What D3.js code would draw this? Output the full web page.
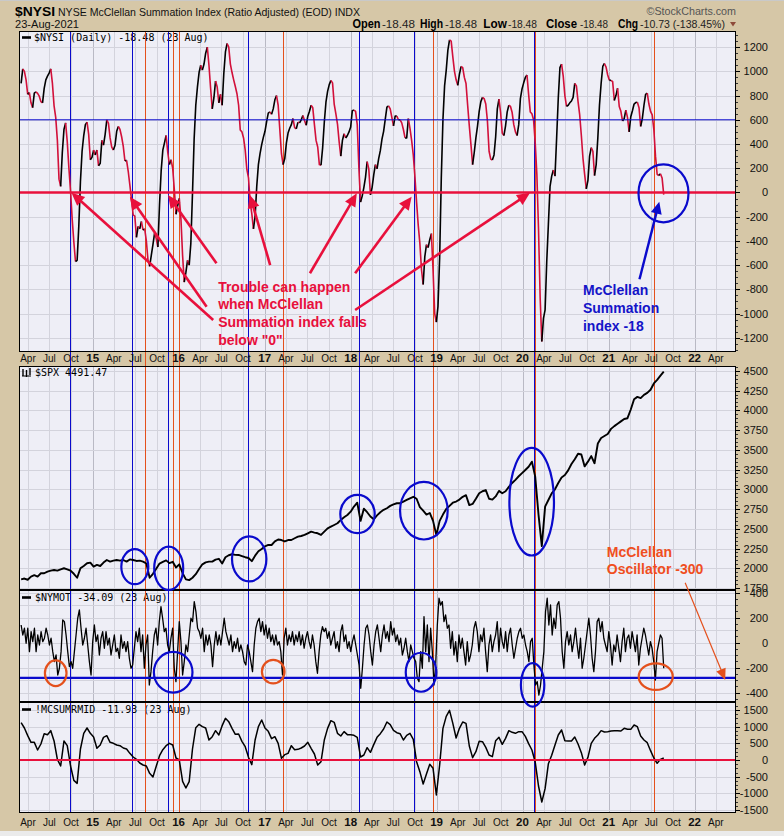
<!DOCTYPE html>
<html>
<head>
<meta charset="utf-8">
<script src="https://cdn.jsdelivr.net/npm/d3@7/dist/d3.min.js"></script>
<style>
html,body{margin:0;padding:0;background:#d6c7a7;}
svg{display:block;}
</style>
</head>
<body>
<svg id="chart" width="784" height="836"></svg>
<script>
// ================= DATA =================
const seriesStart = "2014-03-03";
const seriesEnd = "2021-08-23";

// $NYSI weekly readings
const nysiValues = [
900,1020,1000,930,810,825,740,700,820,830,
818,795,750,740,860,930,960,985,1020,900,
715,620,430,110,50,330,520,575,420,200,
10,-220,-410,-570,-560,-280,90,340,470,560,
580,480,270,290,350,310,350,220,240,430,
390,480,600,570,450,375,350,390,505,545,
520,460,380,260,265,175,60,-60,-185,-195,
-370,-280,-300,-240,-310,-300,-400,-560,-610,-520,
-430,-335,-380,-450,-100,180,350,410,470,330,
230,270,200,20,-180,-110,-50,-220,-520,-740,
-660,-560,-600,-420,-10,440,720,870,990,1050,
1010,1060,1150,1200,1050,860,690,780,920,870,
740,810,720,980,1160,1230,1200,1060,990,930,
875,815,720,515,500,450,350,190,120,-80,
-175,-300,-200,50,230,320,395,455,505,585,
655,665,645,690,765,800,720,520,320,230,
280,410,490,530,560,610,535,525,580,575,
600,635,595,555,630,670,720,700,560,430,
375,230,225,370,580,745,835,890,925,905,
730,650,565,420,300,430,485,450,470,500,
540,675,680,670,560,200,-80,-30,40,125,
255,195,-20,40,145,230,195,280,345,440,
505,605,705,715,690,620,550,630,630,600,
600,575,520,450,450,610,530,430,310,130,
-80,-270,-420,-640,-760,-530,-430,-455,-390,-340,
-640,-1000,-1070,-940,-540,120,600,880,1010,1175,
1260,1250,1120,1000,930,885,975,1040,1030,950,
900,720,550,395,230,330,450,550,670,750,
785,775,730,590,340,275,268,310,460,690,
770,660,490,470,550,665,720,710,660,560,
500,470,560,775,855,905,950,970,810,665,
650,600,410,150,-300,-870,-1230,-1040,-970,-570,
-260,50,135,185,135,450,780,1030,1060,960,
800,710,720,740,755,785,900,880,750,640,
470,280,150,30,100,300,370,340,140,230,
450,720,900,1040,1065,1035,970,926,926,915,
760,800,860,710,670,590,610,680,620,500,
625,675,730,742,745,700,545,610,720,810,
820,730,670,640,520,300,150,140,155,120,
-18
];

// $SPX two-weekly readings
const spxValues = [
1860,1870,1855,1895,1912,1895,1937,1937,1958,1970,
1978,1970,1987,2000,1987,1970,1930,1880,2000,2030,
2063,2072,2021,2042,2029,2072,2105,2084,2097,2105,
2097,2105,2084,2112,2105,2093,2097,2084,2060,1880,
1930,1995,2060,2080,2100,2065,2082,2010,2050,1937,
1860,1850,1880,1925,1990,2050,2075,2084,2084,2110,
2120,2060,2140,2165,2178,2170,2169,2155,2140,2130,
2090,2160,2215,2245,2278,2295,2295,2340,2365,2358,
2340,2358,2358,2380,2400,2409,2422,2443,2464,2452,
2443,2422,2464,2506,2527,2548,2570,2612,2646,2675,
2717,2781,2830,2600,2755,2710,2655,2620,2670,2710,
2740,2760,2790,2810,2823,2823,2844,2865,2886,2905,
2880,2775,2730,2680,2700,2600,2420,2600,2680,2750,
2790,2830,2845,2870,2905,2925,2800,2815,2880,2950,
2975,2990,2880,2870,2910,2980,2950,2975,3030,3080,
3120,3165,3205,3245,3285,3350,3160,2680,2280,2780,
2865,2949,3000,3080,3150,3180,3240,3320,3380,3450,
3440,3290,3350,3420,3330,3580,3650,3675,3700,3765,
3800,3830,3860,3890,3900,4010,4140,4170,4155,4195,
4220,4260,4340,4385,4440,4490
];

// $NYMOT weekly readings
const nymoValues = [
141,61,115,-5,115,-72,88,8,115,-72,
61,-19,88,8,35,115,61,-19,35,-72,
-152,-99,-259,-205,-72,181,168,61,-72,-192,
-152,-205,-72,61,195,261,115,-19,35,115,
-19,-152,-259,8,141,8,61,-99,35,88,
-45,88,-19,35,-99,-19,61,-72,-45,-125,
61,-45,8,-72,8,-125,-205,-179,-45,88,
8,115,-72,61,-205,-19,61,-339,-232,-72,
61,115,-19,168,288,195,88,115,-19,-72,
35,115,-205,-312,-72,168,8,-259,-152,-19,
-72,61,195,168,328,248,115,88,35,115,
-72,61,-19,61,-19,-192,-19,88,-19,61,
-19,88,195,88,35,-19,61,-72,8,-45,
35,-72,-19,-72,-152,-179,-19,-72,-152,-232,
-19,115,168,195,88,168,61,141,35,115,
8,61,-19,61,-19,8,-72,-259,35,115,
-19,61,8,88,-19,61,8,88,-19,61,
-45,35,88,8,-45,61,-19,-152,-245,-72,
61,128,88,115,35,88,-19,35,88,-45,
8,-72,88,141,8,61,-45,8,-72,8,
61,-19,-99,-179,-365,-205,-19,115,141,61,
-72,-179,-19,88,141,35,-72,61,141,35,
88,8,168,61,115,8,61,-19,35,
-99,-45,35,-72,-152,-19,-72,-125,-152,-285,
-312,-72,-205,208,-72,141,-152,115,-72,-339,
-179,141,355,301,328,168,221,115,141,-45,
88,-99,8,-152,61,-45,35,-72,-179,8,
-152,-99,-19,115,168,88,-72,61,8,115,
-72,-232,-19,61,-72,8,61,168,-72,115,
8,-45,88,-72,61,115,-19,-125,-45,35,
88,115,35,61,-19,-72,-152,8,35,-179,
-339,-312,-420,-339,-205,-72,248,355,141,301,
61,195,115,301,328,195,-72,-205,8,88,
-19,61,-72,8,115,-19,-125,35,-205,-125,
-19,88,195,61,-125,-232,-72,168,195,88,
168,35,-19,-72,88,-19,-179,-19,-72,61,
-45,-152,8,115,-72,35,61,-45,88,8,
-72,61,-179,-45,35,115,61,-19,-99,8,
-45,-152,-299,-72,-5,61,35,-205
];

// !MCSUMRMID two-weekly readings
const mcsumValues = [
1120,960,730,530,530,300,480,790,760,880,
570,20,-180,570,430,-180,-610,-700,330,800,
960,800,690,350,450,680,730,530,500,450,
430,360,330,200,90,20,-90,-150,-180,-400,
-510,-190,130,310,430,500,450,60,0,-640,
-840,-650,330,970,1070,1000,960,600,700,880,
750,1030,1250,1150,950,770,780,560,400,80,
-140,600,1000,1200,960,860,640,700,500,50,
160,200,430,310,320,360,420,530,350,180,
-150,-50,600,950,1180,1130,800,720,850,760,
760,740,680,90,150,370,230,460,680,790,
930,1140,1060,890,820,790,600,740,800,620,
-50,-350,-720,-420,-130,-250,-1050,-150,950,1310,
1490,1100,660,950,1140,1100,420,70,250,560,
550,380,150,100,580,680,470,650,880,830,
800,850,850,710,490,300,-60,-780,-1260,-860,
-110,140,450,750,900,580,570,570,690,480,
220,-150,80,500,650,750,880,840,850,870,
880,880,870,950,920,920,1050,1000,720,600,
520,280,60,-100,20,60
];

// axis tick labels
const nysiTicks = [-1200,-1000,-800,-600,-400,-200,0,200,400,600,800,1000,1200];
const spxTicks = [1750,2000,2250,2500,2750,3000,3250,3500,3750,4000,4250,4500];
const nymoTicks = [-400,-200,0,200,400];
const nymoGrid = [-400,-300,-200,-100,0,100,200,300,400];
const mcsumTicks = [-1500,-1000,-500,0,500,1000,1500];

// annotation event dates (vertical lines)
const blueEventDates = ["2014-09-27","2015-06-15","2015-11-19","2016-10-23","2018-02-07","2018-09-28","2020-02-17"];
const orangeEventDates = ["2015-08-12","2015-12-09","2016-01-04","2017-03-18","2018-12-18","2020-02-24","2021-07-14"];

// reference levels
const nysiBlueLevel = 600;
const nysiZeroLevel = 0;
const nymoBlueLevel = -282;
const mcsumZeroLevel = 0;

// ================= DRAWING =================
const D = s => new Date(s + "T00:00:00Z");
const svg = d3.select("#chart");
const SANS = "'Liberation Sans', Arial, Helvetica, sans-serif";
const MONO = "'DejaVu Sans Mono', 'Liberation Mono', monospace";
const BLUE = "#0a0acc", ORANGE = "#e4501c", RED = "#e8103c";

const L = 19, R = 736;
const panels = [
  {top:31,  bottom:352, domain:[-1317,1333]},
  {top:366, bottom:590, domain:[1725,4561]},
  {top:590, bottom:702, domain:[-475,421]},
  {top:702, bottom:813, domain:[-1590,1740]}
];
const x = d3.scaleUtc().domain([D("2014-02-22"), D("2022-06-26")]).range([L, R]);
const ys = panels.map(p => d3.scaleLinear().domain(p.domain).range([p.bottom, p.top]));

function seriesDates(n){
  const t0 = D(seriesStart).getTime(), t1 = D(seriesEnd).getTime();
  return d3.range(n).map(i => new Date(t0 + (t1 - t0) * i / (n - 1)));
}

// background
svg.append("rect").attr("width",784).attr("height",836).attr("fill","#d6c7a7");
svg.append("rect").attr("x",0).attr("y",831).attr("width",784).attr("height",5).attr("fill","#ebebeb");
svg.append("line").attr("x1",0).attr("x2",784).attr("y1",0.5).attr("y2",0.5).attr("stroke","#c9c9c9");

// clip paths
const defs = svg.append("defs");
panels.forEach((p,i) => {
  defs.append("clipPath").attr("id","clip"+i).append("rect")
    .attr("x",L).attr("y",p.top).attr("width",R-L).attr("height",p.bottom-p.top);
});

// plot backgrounds
panels.forEach(p => {
  svg.append("rect").attr("x",L).attr("y",p.top).attr("width",R-L).attr("height",p.bottom-p.top).attr("fill","#eeeef6");
});

// grids
const quarterTicks = x.ticks(d3.utcMonth.every(3));
const gridSets = [nysiTicks, spxTicks, nymoGrid, mcsumTicks];
panels.forEach((p,i) => {
  const g = svg.append("g");
  quarterTicks.forEach(t => {
    g.append("line").attr("x1",Math.round(x(t))+0.5).attr("x2",Math.round(x(t))+0.5)
      .attr("y1",p.top).attr("y2",p.bottom)
      .attr("stroke", t.getUTCMonth()===0 ? "#b9b9c4" : "#d3d3dc").attr("stroke-width",1);
  });
  gridSets[i].forEach(v => {
    const yy = Math.round(ys[i](v))+0.5;
    g.append("line").attr("x1",L).attr("x2",R).attr("y1",yy).attr("y2",yy)
      .attr("stroke","#d3d3dc").attr("stroke-width",1);
  });
});

// panel legends
function legendBar(yc){
  svg.append("rect").attr("x",22).attr("y",yc-1.3).attr("width",9).attr("height",2.6).attr("fill","#000");
}
legendBar(37.5);
svg.append("text").attr("x",34).attr("y",41).attr("font-family",MONO).attr("font-size",10).text("$NYSI (Daily) -18.48 (23 Aug)");
// candle-like icon for SPX
[[23,369,376],[26.5,370,377],[30,368,375]].forEach(c => {
  svg.append("line").attr("x1",c[0]).attr("x2",c[0]).attr("y1",c[1]).attr("y2",c[2]).attr("stroke","#000").attr("stroke-width",1.4);
});
svg.append("path").attr("d","M22,376 L31,376").attr("stroke","#000").attr("stroke-width",1);
svg.append("text").attr("x",35).attr("y",376).attr("font-family",MONO).attr("font-size",10).text("$SPX 4491.47");
legendBar(597.5);
svg.append("text").attr("x",35).attr("y",601).attr("font-family",MONO).attr("font-size",10).text("$NYMOT -34.09 (23 Aug)");
legendBar(709.5);
svg.append("text").attr("x",35).attr("y",713).attr("font-family",MONO).attr("font-size",10).text("!MCSUMRMID -11.93 (23 Aug)");

// vertical event lines
const evG = svg.append("g");
blueEventDates.forEach(s => {
  const xx = Math.round(x(D(s)))+0.5;
  evG.append("line").attr("x1",xx).attr("x2",xx).attr("y1",31).attr("y2",813).attr("stroke",BLUE).attr("stroke-width",1);
});
orangeEventDates.forEach(s => {
  const xx = Math.round(x(D(s)))+0.5;
  evG.append("line").attr("x1",xx).attr("x2",xx).attr("y1",31).attr("y2",813).attr("stroke",ORANGE).attr("stroke-width",1);
});

// data lines
function drawLine(values, pi, color, width){
  const dates = seriesDates(values.length);
  const pts = values.map((v,i) => [x(dates[i]), ys[pi](v)]);
  svg.append("path").attr("clip-path",`url(#clip${pi})`)
    .attr("d", d3.line()(pts)).attr("fill","none").attr("stroke",color)
    .attr("stroke-width",width).attr("stroke-linejoin","round");
}
// NYSI coloured by direction
(function(){
  const dates = seriesDates(nysiValues.length);
  const pts = nysiValues.map((v,i) => [x(dates[i]), ys[0](v)]);
  const g = svg.append("g").attr("clip-path","url(#clip0)");
  let run = [pts[0]], up = nysiValues[1] >= nysiValues[0];
  const flush = () => {
    g.append("path").attr("d", d3.line()(run)).attr("fill","none")
      .attr("stroke", up ? "#000" : "#d2103a").attr("stroke-width",1.6).attr("stroke-linejoin","round");
  };
  for (let i = 1; i < pts.length; i++){
    const u = nysiValues[i] >= nysiValues[i-1];
    if (u !== up){ flush(); run = [pts[i-1]]; up = u; }
    run.push(pts[i]);
  }
  flush();
})();
drawLine(spxValues, 1, "#000", 1.9);
drawLine(nymoValues, 2, "#000", 1.3);
drawLine(mcsumValues, 3, "#000", 1.5);

// horizontal reference lines
function hline(pi, v, color, w){
  const yy = ys[pi](v);
  svg.append("line").attr("x1",L).attr("x2",R).attr("y1",yy).attr("y2",yy).attr("stroke",color).attr("stroke-width",w);
}
hline(0, nysiBlueLevel, BLUE, 1);
hline(0, nysiZeroLevel, RED, 2.6);
hline(2, nymoBlueLevel, "#0a0acc", 2.4);
hline(3, mcsumZeroLevel, RED, 2.2);

// panel borders
panels.forEach(p => {
  svg.append("rect").attr("x",L+0.5).attr("y",p.top+0.5).attr("width",R-L-1).attr("height",p.bottom-p.top-1)
    .attr("fill","none").attr("stroke","#000").attr("stroke-width",1);
});

// right axes
const axisMinor = [50, 50, 50, 125];
const tickSets = [nysiTicks, spxTicks, nymoTicks, mcsumTicks];
panels.forEach((p,i) => {
  const g = svg.append("g");
  const [d0,d1] = p.domain;
  for (let v = Math.ceil(d0/axisMinor[i])*axisMinor[i]; v <= d1; v += axisMinor[i]){
    const yy = Math.round(ys[i](v))+0.5;
    g.append("line").attr("x1",R).attr("x2",R+2).attr("y1",yy).attr("y2",yy).attr("stroke","#333").attr("stroke-width",1);
  }
  tickSets[i].forEach(v => {
    const yy = ys[i](v);
    g.append("line").attr("x1",R).attr("x2",R+4).attr("y1",Math.round(yy)+0.5).attr("y2",Math.round(yy)+0.5).attr("stroke","#000");
    g.append("text").attr("x",768).attr("y",yy+4).attr("text-anchor","end")
      .attr("font-family",SANS).attr("font-size",11).attr("fill","#111").text(v);
  });
});

// x axis labels
function xLabels(baseline){
  const g = svg.append("g");
  quarterTicks.forEach(t => {
    const isYear = t.getUTCMonth() === 0;
    g.append("text").attr("x", x(t)).attr("y", baseline).attr("text-anchor","middle")
      .attr("font-family",SANS).attr("font-size", isYear ? 11.5 : 10)
      .attr("font-weight", isYear ? "bold" : "normal").attr("fill","#111")
      .text(isYear ? d3.utcFormat("%y")(t) : d3.utcFormat("%b")(t));
  });
}
xLabels(362);
xLabels(825.5);

// ---------- annotations ----------
function pt(pi, d, v){ return [x(D(d)), ys[pi](v)]; }
function arrow(a, b, color, w, hl, hw){
  const [x1,y1] = a, [x2,y2] = b;
  const dx = x2-x1, dy = y2-y1, len = Math.hypot(dx,dy), ux = dx/len, uy = dy/len;
  const bx = x2-ux*hl, by = y2-uy*hl;
  svg.append("line").attr("x1",x1).attr("y1",y1).attr("x2",bx+ux*2).attr("y2",by+uy*2)
    .attr("stroke",color).attr("stroke-width",w);
  svg.append("path").attr("d",`M${x2},${y2}L${bx-uy*hw},${by+ux*hw}L${bx+uy*hw},${by-ux*hw}Z`).attr("fill",color);
}
function ellipse(pi, d, v, rx, ry, color){
  const [cx,cy] = pt(pi,d,v);
  svg.append("ellipse").attr("cx",cx).attr("cy",cy).attr("rx",rx).attr("ry",ry)
    .attr("fill","none").attr("stroke",color).attr("stroke-width",2.2);
}

const redArrows = [
  [["2016-05-27",-1053],["2014-10-03",-2]],
  [["2016-04-29",-943],["2015-06-08",-35]],
  [["2016-06-10",-585],["2015-11-17",-21]],
  [["2017-01-24",-599],["2016-10-30",-21]],
  [["2017-07-12",-667],["2018-01-27",-7]],
  [["2018-01-20",-667],["2018-09-17",-35]],
  [["2018-01-20",-970],["2020-02-02",-2]]
];
redArrows.forEach(a => arrow(pt(0,a[0][0],a[0][1]), pt(0,a[1][0],a[1][1]), RED, 2.6, 13, 6));

function multiText(anchor, lines, color, dy){
  const g = svg.append("text").attr("font-family",SANS).attr("font-size",14).attr("font-weight","bold").attr("fill",color);
  lines.forEach((s,i) => g.append("tspan").attr("x",anchor[0]).attr("y",anchor[1]+i*dy).text(s));
}
multiText(pt(0,"2016-06-17",-819), ["Trouble can happen","when McClellan","Summation index falls","below \"0\""], RED, 17.8);

// NYSI blue annotation
ellipse(0, "2021-08-22", -7, 25, 29, BLUE);
arrow(pt(0,"2021-05-12",-717), pt(0,"2021-08-04",-76), BLUE, 2.4, 12, 5.5);
multiText(pt(0,"2020-09-14",-846), ["McClellan","Summation","index -18"], "#1414c8", 18);

// SPX circles
[["2015-06-29",2020,13.5,17.5],["2015-11-20",2000,14.5,21.7],["2016-10-27",2118,17.2,22.5],
 ["2018-01-30",2687,17.2,19.2],["2018-11-08",2729,23.8,28.8],["2020-02-09",2843,22.3,53.8]]
 .forEach(c => ellipse(1, c[0], c[1], c[2], c[3], BLUE));

// NYMO circles
[["2014-07-28",-245,10.8,12.8,ORANGE],["2015-12-09",-237,19.3,20.3,BLUE],["2017-02-06",-232,11.3,11.7,ORANGE],
 ["2018-10-27",-237,15.3,19.5,BLUE],["2020-02-13",-338,11.7,21.7,BLUE],["2021-07-20",-272,17,13.3,ORANGE]]
 .forEach(c => ellipse(2, c[0], c[1], c[2], c[3], c[4]));

// Oscillator annotation
multiText(pt(1,"2020-12-24",2147), ["McClellan","Oscillator -300"], "#f04e1e", 17.4);
arrow(pt(1,"2021-11-22",1818), pt(2,"2022-05-11",-298), ORANGE, 1.2, 11, 5);

// ---------- header ----------
function txt(xx, yy, s, size, weight, len, color){
  const t = svg.append("text").attr("x",xx).attr("y",yy).attr("font-family",SANS)
    .attr("font-size",size).attr("font-weight",weight||"normal").attr("fill",color||"#000").text(s);
  if (len) t.attr("textLength",len).attr("lengthAdjust","spacingAndGlyphs");
  return t;
}
txt(15, 16, "$NYSI", 12.5, "bold", 40);
txt(58, 16, "NYSE McClellan Summation Index (Ratio Adjusted) (EOD) INDX", 10.5, "normal", 302, "#111");
txt(646.5, 15, "\u00A9StockCharts.com", 11, "normal", 89.5, "#555");
txt(15, 28, "23-Aug-2021", 10.5, "normal", 64, "#111");
txt(352.5, 27.5, "Open", 12, "bold", 28);
txt(382, 27.5, "-18.48", 10.5, "normal", 33, "#222");
txt(420, 27.5, "High", 12, "bold", 23);
txt(445, 27.5, "-18.48", 10.5, "normal", 32, "#222");
txt(483.3, 27.5, "Low", 12, "bold", 23.5);
txt(508, 27.5, "-18.48", 10.5, "normal", 29, "#222");
txt(546, 27.5, "Close", 12, "bold", 31);
txt(580, 27.5, "-18.48", 10.5, "normal", 28, "#222");
txt(618, 27.5, "Chg", 12, "bold", 20);
txt(640, 27.5, "-10.73 (-138.45%)", 10.5, "normal", 85, "#222");
svg.append("path").attr("d","M730,22 L736,22 L733,26.5 Z").attr("fill","#8e4a3a");
</script>
</body>
</html>
